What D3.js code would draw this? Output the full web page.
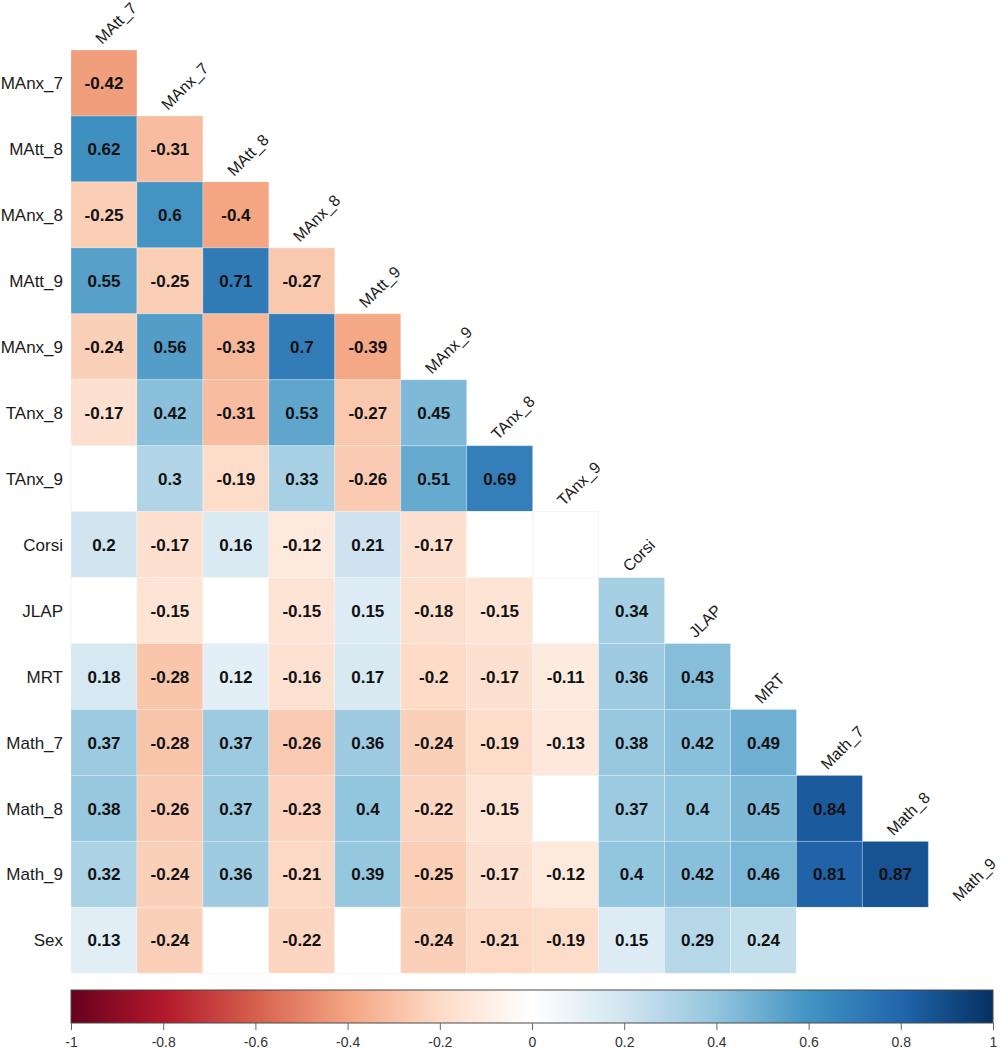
<!DOCTYPE html>
<html>
<head>
<meta charset="utf-8">
<script src="https://cdn.jsdelivr.net/npm/d3@7"></script>
<style>
  html, body { margin: 0; padding: 0; background: #fff; }
  svg { display: block; }
  text { font-family: "Liberation Sans", Arial, sans-serif; }
</style>
</head>
<body>
<svg id="chart" width="1004" height="1050"></svg>
<script>
// ---- data ----
const rowLabels = ["MAnx_7","MAtt_8","MAnx_8","MAtt_9","MAnx_9","TAnx_8","TAnx_9","Corsi","JLAP","MRT","Math_7","Math_8","Math_9","Sex"];
const colLabels = ["MAtt_7","MAnx_7","MAtt_8","MAnx_8","MAtt_9","MAnx_9","TAnx_8","TAnx_9","Corsi","JLAP","MRT","Math_7","Math_8","Math_9"];
// null = not significant (blank cell)
const rowMAnx_7 = [-0.42];
const rowMAtt_8 = [0.62, -0.31];
const rowMAnx_8 = [-0.25, 0.6, -0.4];
const rowMAtt_9 = [0.55, -0.25, 0.71, -0.27];
const rowMAnx_9 = [-0.24, 0.56, -0.33, 0.7, -0.39];
const rowTAnx_8 = [-0.17, 0.42, -0.31, 0.53, -0.27, 0.45];
const rowTAnx_9 = [null, 0.3, -0.19, 0.33, -0.26, 0.51, 0.69];
const rowCorsi  = [0.2, -0.17, 0.16, -0.12, 0.21, -0.17, null, null];
const rowJLAP   = [null, -0.15, null, -0.15, 0.15, -0.18, -0.15, null, 0.34];
const rowMRT    = [0.18, -0.28, 0.12, -0.16, 0.17, -0.2, -0.17, -0.11, 0.36, 0.43];
const rowMath_7 = [0.37, -0.28, 0.37, -0.26, 0.36, -0.24, -0.19, -0.13, 0.38, 0.42, 0.49];
const rowMath_8 = [0.38, -0.26, 0.37, -0.23, 0.4, -0.22, -0.15, null, 0.37, 0.4, 0.45, 0.84];
const rowMath_9 = [0.32, -0.24, 0.36, -0.21, 0.39, -0.25, -0.17, -0.12, 0.4, 0.42, 0.46, 0.81, 0.87];
const rowSex    = [0.13, -0.24, null, -0.22, null, -0.24, -0.21, -0.19, 0.15, 0.29, 0.24, null, null, null];
const corrRows = [rowMAnx_7,rowMAtt_8,rowMAnx_8,rowMAtt_9,rowMAnx_9,rowTAnx_8,rowTAnx_9,rowCorsi,rowJLAP,rowMRT,rowMath_7,rowMath_8,rowMath_9,rowSex];
const legendTicks = [-1,-0.8,-0.6,-0.4,-0.2,0,0.2,0.4,0.6,0.8,1];
const palette = ["#67001F","#B2182B","#D6604D","#F4A582","#FDDBC7","#FFFFFF","#D1E5F0","#92C5DE","#4393C3","#2166AC","#053061"];

// ---- layout ----
const cellSize = 65.95;
const gridLeft = 71, gridTop = 50;
const svg = d3.select("#chart");

const x = d3.scaleBand().domain(colLabels).range([gridLeft, gridLeft + cellSize*colLabels.length]);
const y = d3.scaleBand().domain(rowLabels).range([gridTop, gridTop + cellSize*rowLabels.length]);
const color = d3.scaleLinear().domain(d3.range(palette.length).map(i => -1 + 2*i/(palette.length-1))).range(palette).interpolate(d3.interpolateRgb);

const cells = [];
corrRows.forEach((vals, r) => {
  for (let c = 0; c <= r; c++) {
    cells.push({row: rowLabels[r], col: colLabels[c], v: c < vals.length ? vals[c] : null, last: r === rowLabels.length - 1 && c > 10});
  }
});

const g = svg.append("g");
g.selectAll("rect.cell").data(cells).join("rect")
  .attr("class","cell")
  .attr("x", d => x(d.col))
  .attr("y", d => y(d.row))
  .attr("width", x.bandwidth())
  .attr("height", y.bandwidth())
  .attr("fill", d => d.v == null ? "#ffffff" : color(d.v))
  .attr("stroke", d => d.v == null ? (d.last ? "none" : "#f7f3f1") : "rgba(255,255,255,0.25)")
  .attr("stroke-width", 1);

g.selectAll("text.val").data(cells.filter(d => d.v != null)).join("text")
  .attr("class","val")
  .attr("x", d => x(d.col) + x.bandwidth()/2)
  .attr("y", d => y(d.row) + y.bandwidth()/2)
  .attr("dy", "0.36em")
  .attr("text-anchor","middle")
  .attr("font-size", 17)
  .attr("font-weight","bold")
  .attr("fill","#111")
  .text(d => String(d.v));

// row labels
svg.selectAll("text.rlab").data(rowLabels).join("text")
  .attr("class","rlab")
  .attr("x", gridLeft - 8)
  .attr("y", d => y(d) + y.bandwidth()/2)
  .attr("dy","0.36em")
  .attr("text-anchor","end")
  .attr("font-size", 17)
  .attr("fill","#1a1a1a")
  .text(d => d);

// column (diagonal) labels
svg.selectAll("text.clab").data(colLabels).join("text")
  .attr("class","clab")
  .attr("transform", (d,i) => `translate(${x(d) + x.bandwidth()/2 - 2},${y(rowLabels[i]) - 5}) rotate(-45)`)
  .attr("text-anchor","start")
  .attr("font-size", 16)
  .attr("fill","#1a1a1a")
  .text(d => d);

// ---- colour legend ----
const lx = d3.scaleLinear().domain([-1,1]).range([71, 993]);
const defs = svg.append("defs");
const grad = defs.append("linearGradient").attr("id","rdbu").attr("x1","0%").attr("x2","100%");
d3.range(0, 101).forEach(i => {
  const v = -1 + 2*i/100;
  grad.append("stop").attr("offset", i + "%").attr("stop-color", color(v));
});
const barY = 990, barH = 33;
svg.append("rect")
  .attr("x", lx(-1)).attr("y", barY)
  .attr("width", lx(1) - lx(-1)).attr("height", barH)
  .attr("fill","url(#rdbu)")
  .attr("stroke","#4a4a4a").attr("stroke-width",1);

const axis = d3.axisBottom(lx).tickValues(legendTicks).tickSize(7).tickPadding(7)
  .tickFormat(d => String(+d.toFixed(1)));
const ag = svg.append("g").attr("transform", `translate(0,${barY + barH})`).call(axis);
ag.select(".domain").remove();
ag.selectAll(".tick line").attr("stroke","#666");
ag.selectAll(".tick text").attr("font-size",14).attr("fill","#333")
  .attr("font-family","'Liberation Sans', Arial, sans-serif");
</script>
</body>
</html>
